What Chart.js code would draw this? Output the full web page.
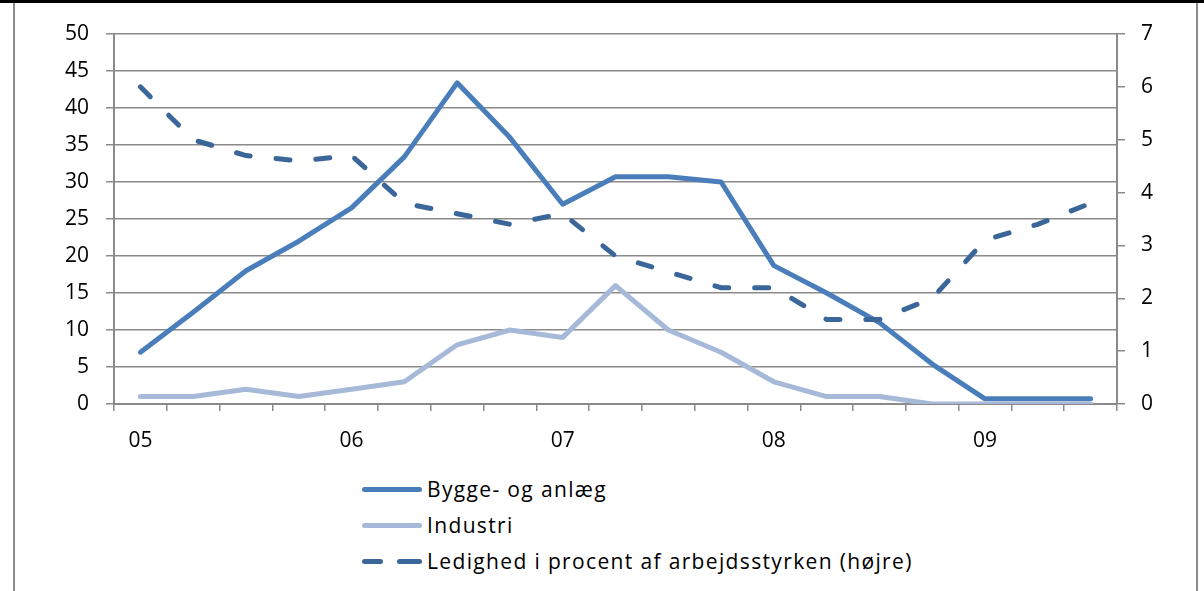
<!DOCTYPE html>
<html lang="da">
<head>
<meta charset="UTF-8">
<title>Beskæftigelse og ledighed</title>
<script src="https://cdn.jsdelivr.net/npm/chart.js"></script>
<style>
  body { margin: 0; background: #fff; }
  .wrap { position: relative; width: 1204px; height: 591px; overflow: hidden; font-family: "Open Sans", sans-serif; }
  .topline { position: absolute; left: 0; top: 0; width: 1204px; height: 3px; background: #000; }
  .side { position: absolute; top: 3px; width: 2px; height: 588px; background: #8a8a8a; }
  #chart { position: absolute; left: 0; top: 0; }
  .legend { position: absolute; left: 362px; top: 471px; font-size: 21px; letter-spacing: 1.35px; color: #000; }
  .item { display: flex; align-items: center; height: 36px; }
  .sample { width: 60px; height: 5px; margin-right: 5px; position: relative; }
  .sample span { position: absolute; top: 0; height: 5px; border-radius: 3px; }
</style>
</head>
<body>
<div class="wrap">
  <div class="topline"></div>
  <div class="side" style="left:13px"></div>
  <div class="side" style="left:1196px"></div>
  <canvas id="chart" width="1204" height="470"></canvas>
  <div class="legend" id="legend"></div>
</div>
<script>
  // kvartaler 2005K1 - 2009K3
  const quarters = ['05K1','05K2','05K3','05K4','06K1','06K2','06K3','06K4','07K1','07K2','07K3','07K4',
                    '08K1','08K2','08K3','08K4','09K1','09K2','09K3'];
  const byggeAnlaeg = [7, 12.4, 18, 22, 26.5, 33.4, 43.4, 36, 27, 30.7, 30.7, 30, 18.7, 15, 11, 5.4, 0.7, 0.7, 0.7];
  const industri = [1, 1, 2, 1, 2, 3, 8, 10, 9, 16, 10, 7, 3, 1, 1, 0, 0, 0, 0];
  const ledighed = [6.0, 5.0, 4.7, 4.6, 4.7, 3.8, 3.6, 3.4, 3.6, 2.8, 2.5, 2.2, 2.2, 1.6, 1.6, 2.0, 3.1, 3.4, 3.8];

  const seriesNames = ['Bygge- og anlæg', 'Industri', 'Ledighed i procent af arbejdsstyrken (højre)'];
  const colors = ['#4a7ebb', '#a7b9d8', '#3b6699'];

  const grey = '#8a8a8a';
  const font = { family: '"Open Sans", sans-serif', size: 21 };

  new Chart(document.getElementById('chart'), {
    type: 'line',
    data: {
      labels: quarters,
      datasets: [{
        label: seriesNames[2],
        data: ledighed,
        yAxisID: 'y1',
        borderColor: colors[2],
        borderWidth: 5,
        borderDash: [14, 26],
        borderCapStyle: 'round',
        pointRadius: 0,
        tension: 0
      }, {
        label: seriesNames[1],
        data: industri,
        yAxisID: 'y',
        borderColor: colors[1],
        borderWidth: 5,
        borderCapStyle: 'round',
        borderJoinStyle: 'round',
        pointRadius: 0,
        tension: 0
      }, {
        label: seriesNames[0],
        data: byggeAnlaeg,
        yAxisID: 'y',
        borderColor: colors[0],
        borderWidth: 5,
        borderCapStyle: 'round',
        borderJoinStyle: 'round',
        pointRadius: 0,
        tension: 0
      }]
    },
    options: {
      responsive: false,
      animation: false,
      layout: { padding: { left: 20, right: 0, top: 34, bottom: 6 } },
      plugins: { legend: { display: false }, tooltip: { enabled: false } },
      scales: {
        x: {
          offset: true,
          grid: { offset: true, drawOnChartArea: false, drawTicks: true, tickLength: 7, color: grey, lineWidth: 1.5 },
          border: { color: grey, width: 2 },
          ticks: {
            autoSkip: false, maxRotation: 0, padding: 17, color: '#000', font: font,
            callback: function(v, i) { return i % 4 === 0 ? quarters[i].slice(0, 2) : ''; }
          },
          afterFit: function(s) { s.height = 60; }
        },
        y: {
          position: 'left',
          min: 0, max: 50,
          ticks: { stepSize: 5, padding: 17, color: '#000', font: font },
          grid: { color: grey, lineWidth: 1.5, tickLength: 8 },
          border: { color: grey, width: 2 },
          afterFit: function(s) { s.width = 94; }
        },
        y1: {
          position: 'right',
          min: 0, max: 7,
          ticks: { stepSize: 1, padding: 16, color: '#000', font: font },
          grid: { drawOnChartArea: false, color: grey, lineWidth: 1.5, tickLength: 8 },
          border: { color: grey, width: 2 },
          afterFit: function(s) { s.width = 87; }
        }
      }
    }
  });

  // legende under diagrammet
  const legend = document.getElementById('legend');
  seriesNames.forEach(function(name, i) {
    const item = document.createElement('div');
    item.className = 'item';
    const sample = document.createElement('div');
    sample.className = 'sample';
    if (i === 2) {
      sample.innerHTML = '<span style="left:0;width:21px;background:' + colors[i] + '"></span>' +
                         '<span style="left:35px;width:25px;background:' + colors[i] + '"></span>';
    } else {
      sample.innerHTML = '<span style="left:0;width:60px;background:' + colors[i] + '"></span>';
    }
    const text = document.createElement('span');
    text.textContent = name;
    item.appendChild(sample);
    item.appendChild(text);
    legend.appendChild(item);
  });
</script>
</body>
</html>
